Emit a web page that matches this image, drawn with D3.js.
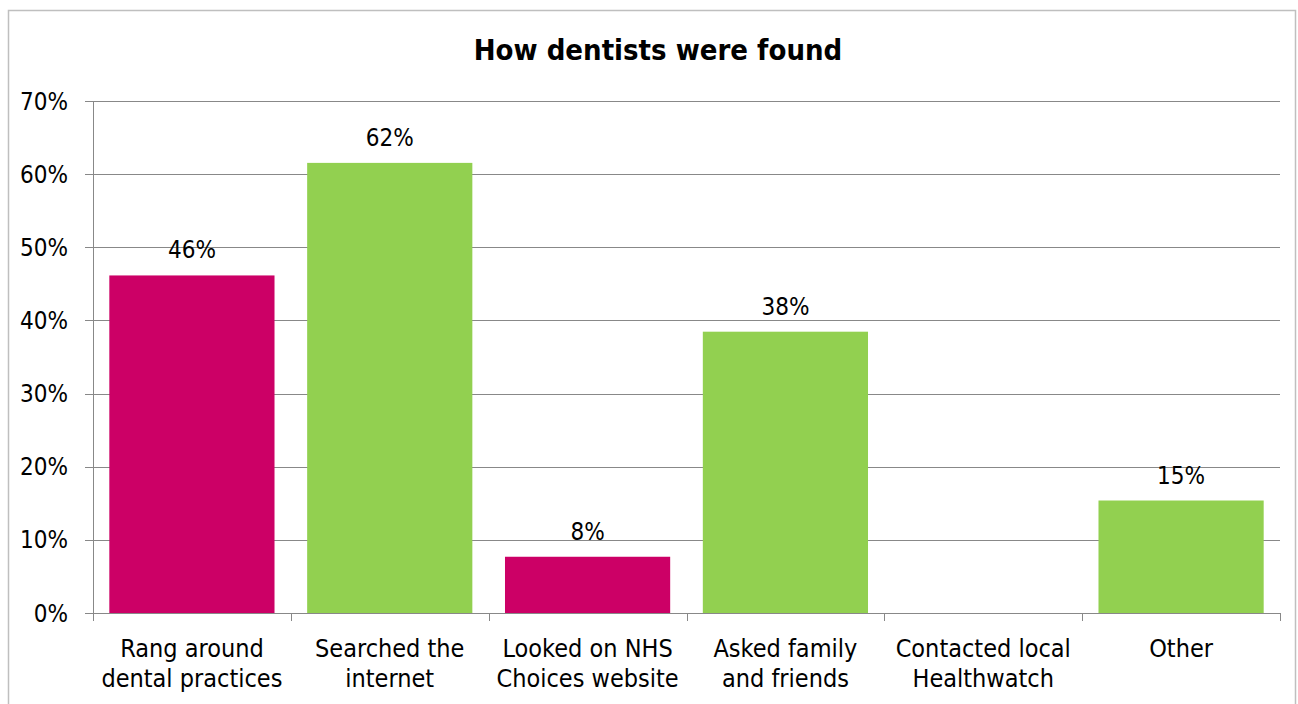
<!DOCTYPE html>
<html>
<head>
<meta charset="utf-8">
<script src="https://cdn.jsdelivr.net/npm/d3@7"></script>
<style>
  html, body { margin: 0; padding: 0; background: #fff; }
  svg text { font-family: "DejaVu Sans Condensed", "DejaVu Sans", sans-serif; font-stretch: condensed; fill: #000; }
</style>
</head>
<body>
<svg id="chart" width="1298" height="704"></svg>
<script>
// Survey answers: share of respondents per way of finding a dentist
const categories = [
  ["Rang around", "dental practices"],
  ["Searched the", "internet"],
  ["Looked on NHS", "Choices website"],
  ["Asked family", "and friends"],
  ["Contacted local", "Healthwatch"],
  ["Other"]
];
const shares = [0.4615, 0.6154, 0.0769, 0.3846, 0, 0.1538];
const barColors = ["#CC0066", "#92D050", "#CC0066", "#92D050", "#CC0066", "#92D050"];
const yTicks = [0, 0.1, 0.2, 0.3, 0.4, 0.5, 0.6, 0.7];
const title = "How dentists were found";

const svg = d3.select("#chart");
const W = 1298, H = 704;
const plot = { left: 93, right: 1280, top: 101, bottom: 613 };

// outer chart frame
svg.append("rect")
  .attr("x", 8.5).attr("y", 10.5)
  .attr("width", W - 11).attr("height", H)
  .attr("fill", "none").attr("stroke", "#BFBFBF").attr("stroke-width", 1.5);

svg.append("text")
  .attr("x", 658).attr("y", 60)
  .attr("text-anchor", "middle")
  .style("font-size", "29px").style("font-weight", "bold")
  .text(title);

const ids = d3.range(categories.length);
const x = d3.scaleBand().domain(ids).range([plot.left, plot.right]).paddingInner(0.165).paddingOuter(0.0825);
const y = d3.scaleLinear().domain([0, 0.7]).range([plot.bottom, plot.top]);

// horizontal gridlines
svg.append("g")
  .selectAll("line").data(yTicks).join("line")
  .attr("x1", plot.left - 8).attr("x2", plot.right)
  .attr("y1", d => Math.round(y(d)) + 0.5).attr("y2", d => Math.round(y(d)) + 0.5)
  .attr("stroke", "#888").attr("stroke-width", 1);

// y axis line
svg.append("line")
  .attr("x1", plot.left + 0.5).attr("x2", plot.left + 0.5)
  .attr("y1", plot.top).attr("y2", plot.bottom)
  .attr("stroke", "#888");

// y tick labels
svg.append("g")
  .selectAll("text").data(yTicks).join("text")
  .attr("x", 68).attr("y", d => y(d))
  .attr("dy", "0.36em")
  .attr("text-anchor", "end")
  .style("font-size", "24px")
  .text(d3.format(".0%"));

// bars
svg.append("g")
  .selectAll("rect").data(ids).join("rect")
  .attr("x", i => x(i)).attr("width", x.bandwidth())
  .attr("y", i => y(shares[i])).attr("height", i => y(0) - y(shares[i]))
  .attr("fill", i => barColors[i]);

// x axis line and category boundary ticks
svg.append("line")
  .attr("x1", plot.left).attr("x2", plot.right)
  .attr("y1", plot.bottom + 0.5).attr("y2", plot.bottom + 0.5)
  .attr("stroke", "#888");
const step = x.step();
svg.append("g")
  .selectAll("line").data(d3.range(categories.length + 1)).join("line")
  .attr("x1", i => Math.round(plot.left + i * step) + 0.5)
  .attr("x2", i => Math.round(plot.left + i * step) + 0.5)
  .attr("y1", plot.bottom).attr("y2", plot.bottom + 8)
  .attr("stroke", "#888");

// value labels above bars (zero answers are left unlabelled)
svg.append("g")
  .selectAll("text").data(ids.filter(i => shares[i] > 0)).join("text")
  .attr("x", i => x(i) + x.bandwidth() / 2)
  .attr("y", i => y(shares[i]) - 17)
  .attr("text-anchor", "middle")
  .style("font-size", "24px")
  .text(i => d3.format(".0%")(shares[i]));

// category labels, one or two lines each
const catG = svg.append("g")
  .selectAll("text").data(ids).join("text")
  .attr("x", i => x(i) + x.bandwidth() / 2)
  .attr("y", 657)
  .attr("text-anchor", "middle")
  .style("font-size", "25px");
catG.selectAll("tspan").data(i => categories[i].map(t => ({ t, cx: x(i) + x.bandwidth() / 2 })))
  .join("tspan")
  .attr("x", d => d.cx)
  .attr("dy", (d, k) => k === 0 ? 0 : 30)
  .text(d => d.t);
</script>
</body>
</html>
